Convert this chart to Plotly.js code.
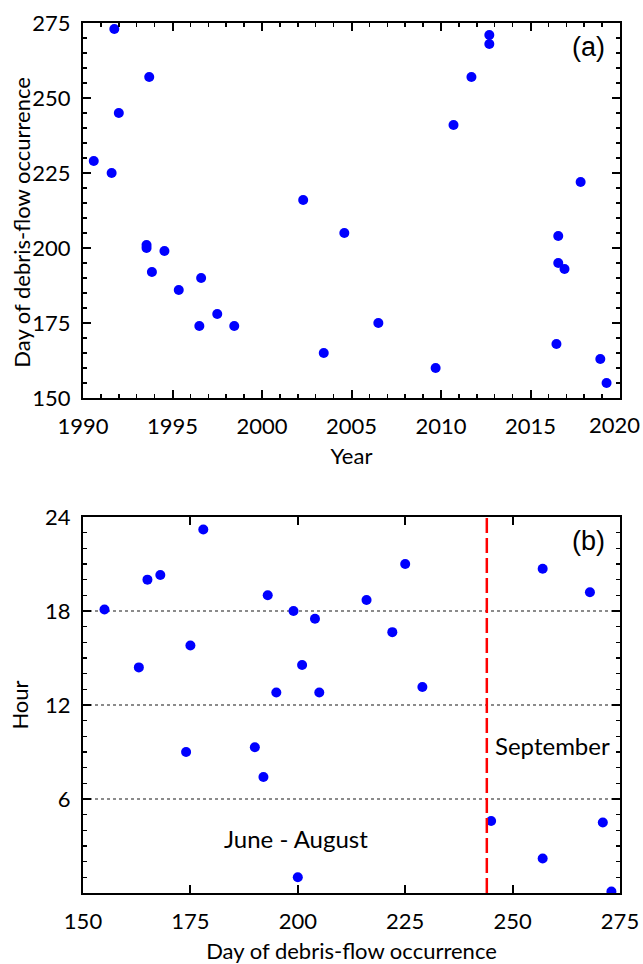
<!DOCTYPE html>
<html>
<head>
<meta charset="utf-8">
<script src="https://cdn.plot.ly/plotly-3.0.1.min.js"></script>
<style>html,body{margin:0;padding:0;background:#fff;}#chart{width:643px;height:964px;}</style>
</head>
<body>
<div id="chart"></div>
<script>
// Panel (a): year vs day of debris-flow occurrence
const yearsA = [1990.6, 1991.6, 1991.75, 1992.0, 1993.7, 2002.3, 2010.7, 2011.7, 2012.7, 2012.7,
                2017.8, 2004.6, 2016.55, 1993.55, 1993.55, 1994.55, 2016.55, 2016.9, 1993.85, 1996.6,
                1995.35, 1997.5, 1996.5, 1998.45, 2006.5, 2003.45, 2016.45, 2018.9, 2009.7, 2019.25];
const daysA = [229, 225, 273, 245, 257, 216, 241, 257, 271, 268,
               222, 205, 204, 201, 200, 199, 195, 193, 192, 190,
               186, 178, 174, 174, 175, 165, 168, 163, 160, 155];

// Panel (b): day of occurrence vs hour
const daysB = [155, 163, 165, 168, 174, 175, 178, 190, 192, 193, 195, 199, 200,
               201, 204, 205, 216, 222, 225, 229, 245, 257, 257, 268, 271, 273];
const hoursB = [18.1, 14.4, 20.0, 20.3, 9.0, 15.8, 23.2, 9.3, 7.4, 19.0, 12.8, 18.0, 1.0,
                14.55, 17.5, 12.8, 18.7, 16.65, 21.0, 13.15, 4.6, 20.7, 2.2, 19.2, 4.5, 0.1];

const yearTicks = [1990, 1995, 2000, 2005, 2010, 2015, 2020];
const yearLabels = ['1990', '1995', '2000', '2005', '2010', '2015', ''];
const lastYearLabel = '2020';
const dayTicks = [150, 175, 200, 225, 250, 275];
const hourTicks = [6, 12, 18, 24];
const septemberStart = 244;
const hourGrid = [6, 12, 18];

const tickFont = {family: 'Lato, "Noto Sans", sans-serif', size: 22, color: '#000'};
const titleFont = {family: 'Lato, "Noto Sans", sans-serif', size: 22, color: '#000'};
const noteFont = {family: 'Lato, "Noto Sans", sans-serif', size: 24, color: '#000'};
const panelFont = {family: '"Liberation Sans", Arial, sans-serif', size: 27, color: '#000'};

const markerStyle = {color: '#0000ff', size: 10};

const traces = [
  {x: yearsA, y: daysA, type: 'scatter', mode: 'markers', marker: markerStyle, xaxis: 'x', yaxis: 'y', showlegend: false},
  {x: daysB, y: hoursB, type: 'scatter', mode: 'markers', marker: markerStyle, xaxis: 'x2', yaxis: 'y2', showlegend: false}
];

function axisBase() {
  return {
    showline: true, linecolor: '#000', linewidth: 2, mirror: 'ticks',
    ticks: 'inside', ticklen: 8, tickwidth: 2, tickcolor: '#000',
    tickfont: tickFont, showgrid: false, zeroline: false, fixedrange: true,
    ticklabeloverflow: 'allow'
  };
}

const shapes = [];
hourGrid.forEach(h => shapes.push({
  type: 'line', xref: 'x2 domain', x0: 0, x1: 1, yref: 'y2', y0: h, y1: h,
  line: {color: '#666666', width: 1.3, dash: 'dot'}, layer: 'below'
}));
shapes.push({
  type: 'line', xref: 'x2', x0: septemberStart, x1: septemberStart, yref: 'y2 domain', y0: 0, y1: 1,
  line: {color: '#ff0000', width: 2.5, dash: '15px,5px'}
});

const layout = {
  width: 643, height: 964,
  margin: {l: 83, r: 23, t: 23, b: 71},
  paper_bgcolor: '#fff', plot_bgcolor: '#fff',
  xaxis: Object.assign(axisBase(), {
    domain: [0, 1], anchor: 'y', range: [1990, 2020], tickvals: yearTicks, ticktext: yearLabels,
    minor: {dtick: 1, tick0: 1990, ticks: 'inside', ticklen: 4, tickwidth: 1.5, tickcolor: '#000'},
    ticklabelstandoff: 8,
    title: {text: 'Year', font: titleFont, standoff: 10}
  }),
  yaxis: Object.assign(axisBase(), {
    domain: [0.569, 1], anchor: 'x', range: [150, 275], tickvals: dayTicks,
    minor: {dtick: 5, tick0: 150, ticks: 'inside', ticklen: 4, tickwidth: 1.5, tickcolor: '#000'},
    ticklabelstandoff: 6
  }),
  xaxis2: Object.assign(axisBase(), {
    domain: [0, 1], anchor: 'y2', range: [150, 275], tickvals: dayTicks,
    ticklabelstandoff: 8,
    title: {text: 'Day of debris-flow occurrence', font: titleFont, standoff: 10}
  }),
  yaxis2: Object.assign(axisBase(), {
    domain: [0, 0.4322], anchor: 'x2', range: [0, 24], tickvals: hourTicks,
    minor: {dtick: 1, tick0: 0, ticks: 'inside', ticklen: 4, tickwidth: 1.5, tickcolor: '#000'},
    ticklabelstandoff: 6,
    title: {text: 'Hour', font: titleFont, standoff: 10}
  }),
  shapes: shapes,
  annotations: [
    {text: 'Day of debris-flow occurrence', textangle: -90, xref: 'paper', yref: 'y domain',
     x: -0.1136, y: 0.47, xanchor: 'center', yanchor: 'middle', showarrow: false, font: titleFont},
    {text: lastYearLabel, xref: 'paper', yref: 'y domain', x: 1.0391, y: 0, yshift: -12,
     xanchor: 'right', yanchor: 'top', showarrow: false, font: tickFont, borderpad: 0},
    {text: '(a)', xref: 'x domain', yref: 'y domain', x: 0.976, y: 0.936, xanchor: 'right', yanchor: 'middle',
     showarrow: false, font: panelFont},
    {text: '(b)', xref: 'x2 domain', yref: 'y2 domain', x: 0.976, y: 0.936, xanchor: 'right', yanchor: 'middle',
     showarrow: false, font: panelFont},
    {text: 'September', xref: 'x2', yref: 'y2', x: 259.2, y: 9.4, xanchor: 'center', yanchor: 'middle',
     showarrow: false, font: noteFont},
    {text: 'June - August', xref: 'x2', yref: 'y2', x: 199.6, y: 3.5, xanchor: 'center', yanchor: 'middle',
     showarrow: false, font: noteFont}
  ]
};

Plotly.newPlot('chart', traces, layout, {displayModeBar: false, staticPlot: true});
</script>
</body>
</html>
